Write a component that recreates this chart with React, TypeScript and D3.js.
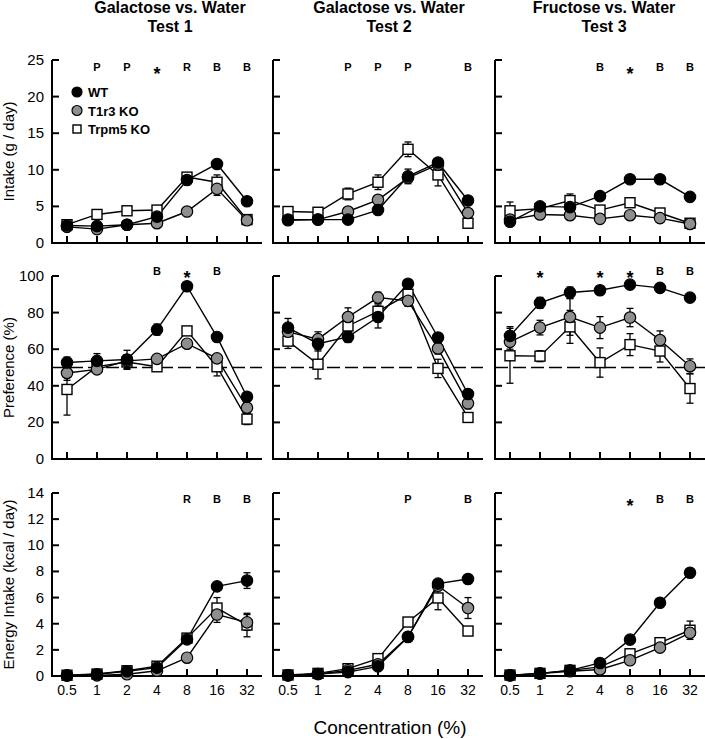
import React from 'react'
import * as d3 from 'd3'

// concentrations (%) and groups
const concentrations = ['0.5', '1', '2', '4', '8', '16', '32']
const groups = ['WT', 'T1r3 KO', 'Trpm5 KO']
const titleLine1 = ['Galactose vs. Water', 'Galactose vs. Water', 'Fructose vs. Water']
const titleLine2 = ['Test 1', 'Test 2', 'Test 3']

// intake (g / day), one row per test
const intakeWT = [
  [2.4, 2.3, 2.5, 3.6, 8.6, 10.8, 5.7],
  [3.1, 3.2, 3.2, 4.5, 9.1, 11.0, 5.8],
  [2.9, 5.0, 4.9, 6.4, 8.7, 8.7, 6.3],
]
const intakeT1r3 = [
  [2.2, 1.9, 2.5, 2.7, 4.3, 7.4, 3.1],
  [3.2, 3.2, 4.3, 5.9, 8.9, 10.7, 4.1],
  [3.2, 3.9, 3.8, 3.3, 3.8, 3.4, 2.6],
]
const intakeTrpm5 = [
  [2.5, 3.9, 4.4, 4.5, 9.0, 8.3, 3.2],
  [4.3, 4.2, 6.7, 8.3, 12.8, 9.3, 2.7],
  [4.4, 4.7, 5.8, 4.5, 5.5, 4.1, 2.7],
]
const intakeWTErr = [
  [0.7, 0.4, 0.3, 0.3, 0.6, 0.4, 0.4],
  [0.3, 0.3, 0.3, 0.3, 1.0, 0.4, 0.4],
  [0.3, 0.3, 0.3, 0.3, 0.3, 0.3, 0.3],
]
const intakeT1r3Err = [
  [0.3, 0.3, 0.3, 0.3, 0.3, 0.9, 0.4],
  [0.3, 0.3, 0.3, 0.3, 0.3, 0.4, 0.4],
  [0.3, 0.3, 0.6, 0.3, 0.3, 0.3, 0.3],
]
const intakeTrpm5Err = [
  [0.4, 0.3, 0.3, 0.3, 0.5, 1.0, 0.4],
  [0.3, 0.3, 0.8, 1.0, 1.0, 1.5, 0.3],
  [1.2, 0.3, 0.9, 0.3, 0.5, 0.3, 0.3],
]

// preference (%)
const prefWT = [
  [52.7, 53.6, 54.4, 70.7, 94.4, 66.7, 34],
  [71.8, 63, 66.7, 77.6, 95.8, 66.4, 35.5],
  [67.3, 85.3, 91, 92.2, 95.3, 93.5, 88.2],
]
const prefT1r3 = [
  [47, 49, 53.6, 54.7, 63, 55, 28],
  [69.5, 65.5, 77.6, 88.2, 86.4, 60.4, 30.4],
  [64, 71.8, 77.6, 71.8, 77.3, 65, 50.7],
]
const prefTrpm5 = [
  [38, 50.5, 53, 50.4, 70, 50.4, 21.8],
  [64.4, 51.8, 72.7, 80.7, 90, 49.5, 22.7],
  [56.4, 56.2, 72.2, 52.7, 62.5, 59, 38.5],
]
const prefWTErr = [
  [3, 4, 5, 3, 1.5, 1.5, 2],
  [5, 4, 3, 6, 1.5, 2, 2],
  [5, 3, 3, 2, 1.5, 1.5, 1.5],
]
const prefT1r3Err = [
  [4, 2, 3, 2, 2, 2, 4],
  [3, 4, 5, 3, 3, 3, 3],
  [4, 4, 10, 6, 5, 5, 4],
]
const prefTrpm5Err = [
  [14, 2, 4, 2, 2, 5, 3],
  [4, 8, 3, 4, 5, 5, 2],
  [15, 3, 9, 8, 6, 6, 8],
]

// energy intake (kcal / day)
const energyWT = [
  [0.05, 0.13, 0.36, 0.64, 2.8, 6.86, 7.3],
  [0.05, 0.15, 0.3, 0.74, 2.98, 7.07, 7.42],
  [0.05, 0.2, 0.43, 1.0, 2.78, 5.6, 7.9],
]
const energyT1r3 = [
  [0.03, 0.05, 0.13, 0.4, 1.4, 4.7, 4.1],
  [0.05, 0.15, 0.43, 0.9, 3.0, 6.9, 5.2],
  [0.05, 0.18, 0.36, 0.5, 1.2, 2.17, 3.3],
]
const energyTrpm5 = [
  [0.06, 0.15, 0.4, 0.75, 2.9, 5.2, 3.9],
  [0.08, 0.2, 0.56, 1.33, 4.13, 5.97, 3.44],
  [0.07, 0.2, 0.43, 0.7, 1.7, 2.55, 3.5],
]
const energyWTErr = [
  [0.1, 0.1, 0.1, 0.1, 0.2, 0.3, 0.6],
  [0.1, 0.1, 0.1, 0.1, 0.3, 0.3, 0.3],
  [0.1, 0.1, 0.1, 0.1, 0.1, 0.1, 0.1],
]
const energyT1r3Err = [
  [0.1, 0.1, 0.1, 0.1, 0.1, 0.6, 0.6],
  [0.1, 0.1, 0.1, 0.1, 0.1, 0.3, 0.8],
  [0.1, 0.1, 0.1, 0.1, 0.1, 0.2, 0.3],
]
const energyTrpm5Err = [
  [0.1, 0.1, 0.1, 0.1, 0.2, 0.8, 0.9],
  [0.1, 0.1, 0.1, 0.1, 0.2, 0.9, 0.2],
  [0.1, 0.1, 0.1, 0.1, 0.1, 0.2, 0.7],
]

// significance marks above each concentration
const intakeMarks = [
  ['', 'P', 'P', '*', 'R', 'B', 'B'],
  ['', '', 'P', 'P', 'P', '', 'B'],
  ['', '', '', 'B', '*', 'B', 'B'],
]
const prefMarks = [
  ['', '', '', 'B', '*', 'B', ''],
  ['', '', '', '', '', '', ''],
  ['', '*', '', '*', '*', 'B', 'B'],
]
const energyMarks = [
  ['', '', '', '', 'R', 'B', 'B'],
  ['', '', '', '', 'P', '', 'B'],
  ['', '', '', '', '*', 'B', 'B'],
]

const intakeTicks = [0, 5, 10, 15, 20, 25]
const prefTicks = [0, 20, 40, 60, 80, 100]
const energyTicks = [0, 2, 4, 6, 8, 10, 12, 14]

// layout
const FONT = '"Liberation Sans", Arial, sans-serif'
const colLeft = [52, 273, 495]
const titleX = [170, 389, 604]
const panelW = 210
const panelH = 183
const tickLen = 7

// draw order: Trpm5, T1r3, WT on top
const rows = [
  {
    top: 60, label: 'Intake (g / day)', ticks: intakeTicks, marks: intakeMarks, markDy: 11,
    series: [
      { vals: intakeTrpm5, err: intakeTrpm5Err },
      { vals: intakeT1r3, err: intakeT1r3Err },
      { vals: intakeWT, err: intakeWTErr },
    ],
  },
  {
    top: 276, label: 'Preference (%)', ticks: prefTicks, marks: prefMarks, markDy: -1, ref: 50,
    series: [
      { vals: prefTrpm5, err: prefTrpm5Err },
      { vals: prefT1r3, err: prefT1r3Err },
      { vals: prefWT, err: prefWTErr },
    ],
  },
  {
    top: 493, label: 'Energy Intake (kcal / day)', ticks: energyTicks, marks: energyMarks, markDy: 10, xLabels: true,
    series: [
      { vals: energyTrpm5, err: energyTrpm5Err },
      { vals: energyT1r3, err: energyT1r3Err },
      { vals: energyWT, err: energyWTErr },
    ],
  },
]
const seriesStyle = [
  { shape: 'square', fill: '#fff' },
  { shape: 'circle', fill: '#8e8e8e' },
  { shape: 'circle', fill: '#000' },
]

const Marker = ({ x, y, shape, fill, r = 5.7, s = 10 }) =>
  shape === 'circle' ? (
    <circle cx={x} cy={y} r={r} fill={fill} stroke='#000' strokeWidth={1.2} />
  ) : (
    <rect x={x - s / 2} y={y - s / 2} width={s} height={s} fill={fill} stroke='#000' strokeWidth={1.4} />
  )

const Panel = ({ row, col }) => {
  const left = colLeft[col]
  const top = row.top
  const bottom = top + panelH
  const x = d3.scalePoint().domain(concentrations).range([left, left + panelW]).padding(0.5)
  const yMax = row.ticks[row.ticks.length - 1]
  const y = d3.scaleLinear().domain([0, yMax]).range([bottom, top])
  const line = d3
    .line()
    .x((d, i) => x(concentrations[i]))
    .y((d) => y(d))

  return (
    <g>
      {/* axes */}
      <line x1={left} x2={left} y1={top} y2={bottom + 1} stroke='#000' strokeWidth={2} />
      <line x1={left - 1} x2={left + panelW} y1={bottom} y2={bottom} stroke='#000' strokeWidth={2} />
      {row.ticks.map((t) => (
        <line key={'yt' + t} x1={left} x2={left + tickLen} y1={y(t)} y2={y(t)} stroke='#000' strokeWidth={2} />
      ))}
      {concentrations.map((c) => (
        <line key={'xt' + c} x1={x(c)} x2={x(c)} y1={bottom} y2={bottom - tickLen} stroke='#000' strokeWidth={2} />
      ))}
      {col === 0 &&
        row.ticks.map((t) => (
          <text key={'yl' + t} x={left - 8} y={y(t) + 5} textAnchor='end' fontSize={15} fontFamily={FONT}>
            {t}
          </text>
        ))}
      {row.xLabels &&
        concentrations.map((c) => (
          <text key={'xl' + c} x={x(c)} y={bottom + 19} textAnchor='middle' fontSize={14} fontFamily={FONT}>
            {c}
          </text>
        ))}
      {row.ref !== undefined && (
        <line
          x1={left}
          x2={left + panelW}
          y1={y(row.ref)}
          y2={y(row.ref)}
          stroke='#000'
          strokeWidth={1.5}
          strokeDasharray='13,5'
        />
      )}
      {/* significance marks */}
      {row.marks[col].map((m, i) =>
        m === '' ? null : m === '*' ? (
          <text key={'m' + i} x={x(concentrations[i])} y={top + row.markDy + 9} textAnchor='middle' fontSize={18} fontWeight='bold' fontFamily={FONT}>
            *
          </text>
        ) : (
          <text key={'m' + i} x={x(concentrations[i])} y={top + row.markDy} textAnchor='middle' fontSize={11} fontWeight='bold' fontFamily={FONT}>
            {m}
          </text>
        )
      )}
      {/* error bars */}
      {row.series.map((s, si) =>
        s.vals[col].map((v, i) => {
          const cx = x(concentrations[i])
          const e = s.err[col][i]
          return (
            <g key={'e' + si + i} stroke='#000' strokeWidth={1.3}>
              <line x1={cx} x2={cx} y1={y(v - e)} y2={y(v + e)} />
              <line x1={cx - 3.5} x2={cx + 3.5} y1={y(v + e)} y2={y(v + e)} />
              <line x1={cx - 3.5} x2={cx + 3.5} y1={y(v - e)} y2={y(v - e)} />
            </g>
          )
        })
      )}
      {/* lines */}
      {row.series.map((s, si) => (
        <path key={'l' + si} d={line(s.vals[col])} fill='none' stroke='#000' strokeWidth={1.4} />
      ))}
      {/* markers */}
      {row.series.map((s, si) =>
        s.vals[col].map((v, i) => (
          <Marker key={'p' + si + i} x={x(concentrations[i])} y={y(v)} {...seriesStyle[si]} />
        ))
      )}
    </g>
  )
}

const legendStyle = [
  { shape: 'circle', fill: '#000' },
  { shape: 'circle', fill: '#8e8e8e' },
  { shape: 'square', fill: '#fff' },
]

export default function App() {
  return (
    <svg width={705} height={739} style={{ position: 'absolute', left: 0, top: 0, background: '#fff' }}>
      {titleX.map((tx, i) => (
        <g key={'t' + i} fontFamily={FONT} fontWeight='bold' fontSize={16} textAnchor='middle'>
          <text x={tx} y={13}>{titleLine1[i]}</text>
          <text x={tx} y={32}>{titleLine2[i]}</text>
        </g>
      ))}
      {rows.map((row, ri) => (
        <g key={'r' + ri}>
          <text
            transform={`translate(14, ${row.top + panelH / 2}) rotate(-90)`}
            textAnchor='middle'
            fontSize={15}
            fontFamily={FONT}
          >
            {row.label}
          </text>
          {colLeft.map((_, ci) => (
            <Panel key={'p' + ci} row={row} col={ci} />
          ))}
        </g>
      ))}
      {/* legend */}
      {groups.map((g, i) => (
        <g key={'lg' + i}>
          <Marker x={77} y={92 + i * 18.5} r={5} s={8} {...legendStyle[i]} />
          <text x={88} y={97 + i * 18.5} fontSize={13} fontWeight='bold' fontFamily={FONT}>
            {g}
          </text>
        </g>
      ))}
      <text x={390} y={734} textAnchor='middle' fontSize={19} fontFamily={FONT}>
        Concentration (%)
      </text>
    </svg>
  )
}
